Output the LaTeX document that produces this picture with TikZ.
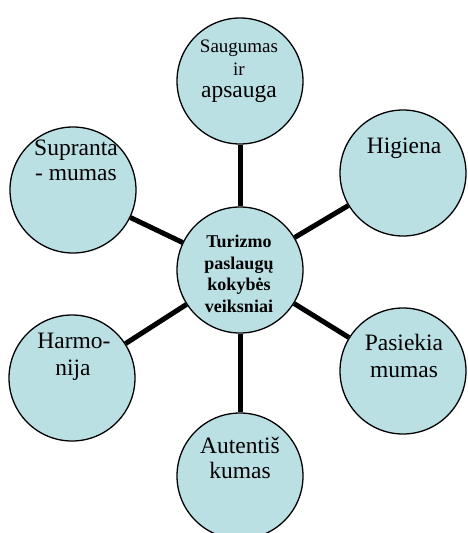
\documentclass[tikz,border=0pt]{standalone}
\usepackage{fontspec}
\setmainfont{Liberation Serif}
\definecolor{factorfill}{RGB}{187,224,228}
\tikzset{
  factor/.style={circle, draw=black, line width=1.3pt, fill=factorfill,
    minimum size=126pt, inner sep=0pt},
  spoke/.style={line width=5pt, black},
  lbl/.style={anchor=base, inner sep=0pt, font=\fontsize{23.5}{27}\selectfont},
  smalllbl/.style={anchor=base, inner sep=0pt, font=\fontsize{19}{22}\selectfont},
  corelbl/.style={anchor=base, inner sep=0pt, font=\fontsize{18}{21}\selectfont\bfseries}
}
\begin{document}
\begin{tikzpicture}[x=1pt, y=-1pt]
  \useasboundingbox (0,0) rectangle (467,533);
  \clip (0,0) rectangle (467,533);

  % hub and the six factors around it
  \node[factor] (core) at (240,270) {};
  \node[factor] (safe) at (240,81) {};
  \node[factor] (under) at (73,190) {};
  \node[factor] (hyg) at (403,173) {};
  \node[factor] (harm) at (72,378) {};
  \node[factor] (reach) at (403,371) {};
  \node[factor] (auth) at (240,476) {};

  % thick spokes from the hub to each factor
  \foreach \f in {safe,under,hyg,harm,reach,auth}
    \draw[spoke] (core) -- (\f);

  % labels
  \node[corelbl] (c1) at (239,247) {Turizmo};
  \node[corelbl] (c2) at (239,269) {paslaugų};
  \node[corelbl] (c3) at (239,290) {kokybės};
  \node[corelbl] (c4) at (239,312) {veiksniai};

  \node[smalllbl] (s1) at (239,52) {Saugumas};
  \node[smalllbl] (s2) at (239,75) {ir};
  \node[lbl] (s3) at (239,97) {apsauga};

  \node[lbl] (u1) at (76,155) {Supranta};
  \node[lbl] (u2) at (76,180) {- mumas};

  \node[lbl] (h1) at (404,153) {Higiena};

  \node[lbl] (m1) at (74,348) {Harmo-};
  \node[lbl] (m2) at (73,375) {nija};

  \node[lbl] (p1) at (404,350) {Pasiekia};
  \node[lbl] (p2) at (404,377) {mumas};

  \node[lbl] (a1) at (240,453) {Autentiš};
  \node[lbl] (a2) at (240,478) {kumas};
\end{tikzpicture}
\end{document}
